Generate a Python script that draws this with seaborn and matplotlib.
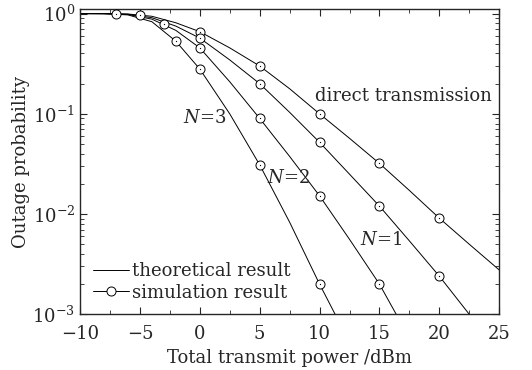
import numpy as np
import pandas as pd
import seaborn as sns
from matplotlib import pyplot as plt
from matplotlib.lines import Line2D

# theoretical curves
x_theory = [-10, -8, -6, -4, -2, 0, 2.5, 5, 7.5, 10, 12.5, 15, 17.5, 20, 22.5, 25]
p_direct = [1.0, 0.999, 0.99, 0.94, 0.81, 0.66, 0.455, 0.30, 0.178, 0.10, 0.057, 0.032, 0.0172, 0.0091, 0.0050, 0.00277]
p_n1 = [1.0, 0.998, 0.985, 0.91, 0.75, 0.57, 0.345, 0.20, 0.1035, 0.052, 0.025, 0.012, 0.0054, 0.0024, 0.0010, np.nan]
p_n2 = [1.0, 0.998, 0.98, 0.88, 0.68, 0.455, 0.209, 0.090, 0.0376, 0.0152, 0.0056, 0.0020, np.nan, np.nan, np.nan, np.nan]
p_n3 = [1.0, 0.997, 0.97, 0.83, 0.53, 0.28, 0.10, 0.031, 0.0083, 0.0020, np.nan, np.nan, np.nan, np.nan, np.nan, np.nan]
# line ends where the curves leave the plot at 1e-3
n2_end = (16.4, 0.001)
n3_end = (11.3, 0.001)

# simulation points
sim_direct_x = [-7, 0, 5, 10, 15, 20]
sim_direct_y = [1.0, 0.66, 0.30, 0.10, 0.032, 0.0091]
sim_n1_x = [-5, 0, 5, 10, 15, 20]
sim_n1_y = [0.96, 0.57, 0.20, 0.052, 0.012, 0.0024]
sim_n2_x = [-3, 0, 5, 10, 15]
sim_n2_y = [0.79, 0.455, 0.090, 0.0152, 0.0020]
sim_n3_x = [-2, 0, 5, 10]
sim_n3_y = [0.53, 0.28, 0.031, 0.0020]

sns.set_style("ticks")
plt.rcParams['font.family'] = ['DejaVu Serif']
plt.rcParams['mathtext.fontset'] = 'dejavuserif'

fig = plt.figure(figsize=(5.32, 3.70), dpi=100)
ax = fig.add_axes([0.1504, 0.1505, 0.788, 0.824])

curves = [
    (x_theory, p_direct, None),
    (x_theory, p_n1, None),
    (x_theory, p_n2, n2_end),
    (x_theory, p_n3, n3_end),
]
for xs, ys, end in curves:
    df = pd.DataFrame({"x": xs, "y": ys}).dropna()
    if end is not None:
        df = pd.concat([df, pd.DataFrame({"x": [end[0]], "y": [end[1]]})], ignore_index=True)
    sns.lineplot(data=df, x="x", y="y", ax=ax, color="black", lw=0.7, sort=True)

sims = [(sim_direct_x, sim_direct_y), (sim_n1_x, sim_n1_y),
        (sim_n2_x, sim_n2_y), (sim_n3_x, sim_n3_y)]
for sx, sy in sims:
    ax.plot(sx, sy, ls="none", marker="o", ms=6.5, mfc="white", mec="black", mew=0.7, zorder=3)
    ax.plot(sx, sy, ls="none", marker="o", ms=0.9, mfc="black", mew=0, zorder=4)

ax.set_yscale("log")
ax.set_xlim(-10, 25)
ax.set_ylim(1e-3, 1.1)
ax.set_xticks([-10, -5, 0, 5, 10, 15, 20, 25])
ax.set_xticks(np.arange(-7.5, 25, 5), minor=True)
ax.set_xticklabels(["\u221210", "\u22125", "0", "5", "10", "15", "20", "25"])
ax.tick_params(which="both", direction="in", top=True, right=True, labelsize=13)
ax.tick_params(which="major", length=5, width=0.8)
ax.tick_params(which="minor", length=3, width=0.6)
ax.tick_params(axis="x", which="major", pad=8)
for s in ax.spines.values():
    s.set_linewidth(1.0)

ax.set_xlabel("Total transmit power /dBm", fontsize=13, labelpad=4)
ax.set_ylabel("Outage probability", fontsize=13, labelpad=2)

ax.text(17.0, 0.149, "direct transmission", fontsize=13, ha="center", va="center")
ax.text(15.1, 0.0055, "$N$=1", fontsize=13, ha="center", va="center")
ax.text(7.4, 0.023, "$N$=2", fontsize=13, ha="center", va="center")
ax.text(0.4, 0.091, "$N$=3", fontsize=13, ha="center", va="center")

handles = [
    Line2D([], [], color="black", lw=0.7),
    Line2D([], [], color="black", lw=0.7, marker="o", ms=6.5, mfc="white", mec="black", mew=0.7),
]
ax.legend(handles, ["theoretical result", "simulation result"], loc="lower left",
          frameon=False, fontsize=13, handlelength=2.0, handletextpad=0.2,
          borderaxespad=0.3, labelspacing=0.2)

fig.savefig("out.png", dpi=100)
